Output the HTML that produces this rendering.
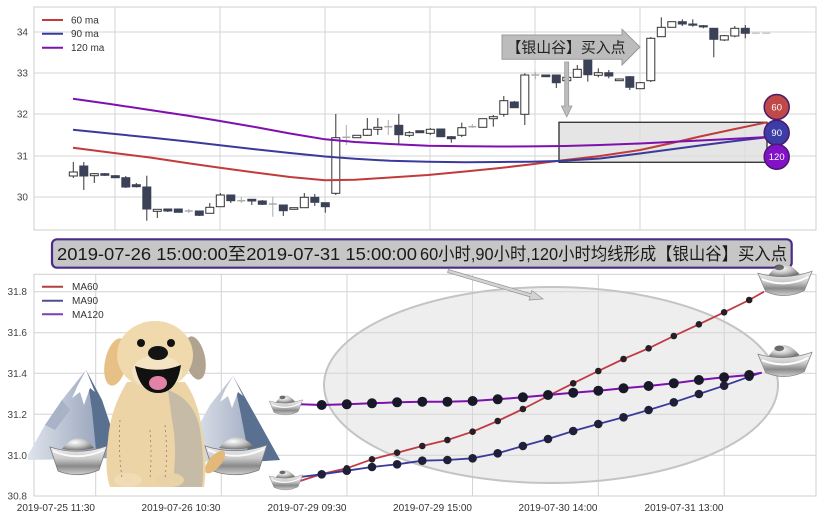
<!DOCTYPE html>
<html><head><meta charset="utf-8"><style>
html,body{margin:0;padding:0;background:#fff;}
svg{display:block;}
text{font-family:"Liberation Sans","Noto Sans CJK SC",sans-serif;}
</style></head><body>
<svg width="822" height="520" viewBox="0 0 822 520" xmlns="http://www.w3.org/2000/svg">
<defs>
<linearGradient id="silv" x1="0" y1="0" x2="0" y2="1"><stop offset="0" stop-color="#f4f4f4"/><stop offset="0.45" stop-color="#c8c8c8"/><stop offset="0.7" stop-color="#8a8a8a"/><stop offset="1" stop-color="#d0d0d0"/></linearGradient>
<radialGradient id="dome" cx="0.4" cy="0.35" r="0.7"><stop offset="0" stop-color="#ffffff"/><stop offset="0.5" stop-color="#c4c4c4"/><stop offset="1" stop-color="#6a6a6a"/></radialGradient>
<linearGradient id="mtL" x1="0" y1="0" x2="1" y2="0"><stop offset="0" stop-color="#dfe4ec"/><stop offset="1" stop-color="#8795b0"/></linearGradient>
<symbol id="ing" viewBox="0 0 60 42">
<path d="M2,16 Q30,24 58,14 L50,34 Q30,44 10,35 Z" fill="url(#silv)" stroke="#888" stroke-width="0.8"/>
<path d="M13,18 Q28,-4 45,17 Q30,22 13,18 Z" fill="url(#dome)"/>
<ellipse cx="24" cy="10" rx="5" ry="3" fill="#333" opacity="0.7"/>
<path d="M6,22 Q30,32 54,20" stroke="#fff" stroke-width="2" fill="none"/>
</symbol>
</defs>

<!-- ========== TOP CHART ========== -->
<rect x="34" y="7" width="782" height="223" fill="#fff" stroke="#cfcfcf" stroke-width="1"/>
<g stroke="#d4d4d4" stroke-width="1">
<line x1="34" y1="32" x2="816" y2="32"/><line x1="34" y1="73" x2="816" y2="73"/>
<line x1="34" y1="114" x2="816" y2="114"/><line x1="34" y1="156" x2="816" y2="156"/>
<line x1="34" y1="197" x2="816" y2="197"/>
<line x1="115" y1="7" x2="115" y2="230"/><line x1="220" y1="7" x2="220" y2="230"/>
<line x1="325" y1="7" x2="325" y2="230"/><line x1="430" y1="7" x2="430" y2="230"/>
<line x1="535" y1="7" x2="535" y2="230"/><line x1="640" y1="7" x2="640" y2="230"/>
<line x1="745" y1="7" x2="745" y2="230"/>
</g>
<g font-size="10" fill="#444" text-anchor="end">
<text x="28" y="35.5">34</text><text x="28" y="76.5">33</text><text x="28" y="117.5">32</text>
<text x="28" y="159.5">31</text><text x="28" y="200.5">30</text>
</g>

<!-- gray box -->
<rect x="559" y="122.3" width="208" height="40" fill="#dcdcdc" fill-opacity="0.75" stroke="#3a3a3a" stroke-width="1.4"/>

<!-- candles -->
<g stroke="#333" stroke-width="1">
<line x1="73.3" y1="162" x2="73.3" y2="178"/><line x1="83.8" y1="162" x2="83.8" y2="190"/>
<line x1="94.3" y1="173" x2="94.3" y2="183"/><line x1="104.8" y1="173" x2="104.8" y2="176"/>
<line x1="115.3" y1="175" x2="115.3" y2="178"/><line x1="125.8" y1="176" x2="125.8" y2="188"/>
<line x1="136.3" y1="183" x2="136.3" y2="187.5"/><line x1="146.8" y1="175.7" x2="146.8" y2="220.7"/>
<line x1="157.3" y1="209" x2="157.3" y2="218"/><line x1="167.8" y1="208.5" x2="167.8" y2="212"/>
<line x1="199.3" y1="211" x2="199.3" y2="216"/><line x1="209.8" y1="203" x2="209.8" y2="213.5"/>
<line x1="220.3" y1="193" x2="220.3" y2="207"/><line x1="230.8" y1="195" x2="230.8" y2="203"/>
<line x1="251.8" y1="199" x2="251.8" y2="205"/><line x1="262.3" y1="200" x2="262.3" y2="205"/>
<line x1="283.3" y1="205" x2="283.3" y2="216"/><line x1="304.3" y1="193" x2="304.3" y2="208"/>
<line x1="314.8" y1="194" x2="314.8" y2="206"/><line x1="325.3" y1="202.5" x2="325.3" y2="212.7"/>
<line x1="335.8" y1="114" x2="335.8" y2="195"/>
<line x1="367.3" y1="118" x2="367.3" y2="136"/><line x1="377.8" y1="118" x2="377.8" y2="135"/>
<line x1="398.8" y1="114" x2="398.8" y2="145"/><line x1="409.3" y1="131" x2="409.3" y2="137"/>
<line x1="430.3" y1="128" x2="430.3" y2="135"/><line x1="440.8" y1="128.5" x2="440.8" y2="137"/>
<line x1="451.3" y1="136" x2="451.3" y2="142.7"/><line x1="461.8" y1="122.7" x2="461.8" y2="137"/>
<line x1="493.3" y1="115" x2="493.3" y2="126.7"/><line x1="503.8" y1="96" x2="503.8" y2="116.7"/>
<line x1="514.3" y1="101" x2="514.3" y2="108"/><line x1="524.8" y1="73.3" x2="524.8" y2="125"/>
<line x1="556.3" y1="75" x2="556.3" y2="88"/><line x1="566.8" y1="76" x2="566.8" y2="82"/>
<line x1="577.3" y1="65" x2="577.3" y2="78"/><line x1="587.8" y1="59" x2="587.8" y2="81.7"/>
<line x1="598.3" y1="68.3" x2="598.3" y2="77.3"/><line x1="608.8" y1="70" x2="608.8" y2="78.3"/>
<line x1="629.8" y1="76" x2="629.8" y2="90"/><line x1="640.3" y1="82" x2="640.3" y2="89"/>
<line x1="650.8" y1="37" x2="650.8" y2="82"/><line x1="661.3" y1="17.3" x2="661.3" y2="37"/>
<line x1="682.3" y1="19.3" x2="682.3" y2="26"/><line x1="692.8" y1="19.3" x2="692.8" y2="26.7"/>
<line x1="703.3" y1="25" x2="703.3" y2="28.3"/><line x1="713.8" y1="28" x2="713.8" y2="57.3"/>
<line x1="724.3" y1="35" x2="724.3" y2="41"/><line x1="734.8" y1="26" x2="734.8" y2="37.3"/>
<line x1="745.3" y1="25" x2="745.3" y2="38.3"/>
</g>
<g stroke="#aaa" stroke-width="1">
<line x1="188.8" y1="209" x2="188.8" y2="213"/><line x1="241.3" y1="197" x2="241.3" y2="203"/>
<line x1="272.8" y1="196.7" x2="272.8" y2="216.7"/><line x1="346.3" y1="125" x2="346.3" y2="145"/>
<line x1="388.3" y1="120" x2="388.3" y2="135"/><line x1="472.3" y1="124" x2="472.3" y2="128"/>
<line x1="535.3" y1="71.7" x2="535.3" y2="79.3"/>
</g>
<g stroke="#aaa" stroke-width="1.5">
<line x1="184.8" y1="211" x2="192.8" y2="211"/><line x1="237.3" y1="200.7" x2="245.3" y2="200.7"/>
<line x1="268.8" y1="204" x2="276.8" y2="204"/><line x1="342.3" y1="137.3" x2="350.3" y2="137.3"/>
<line x1="384.3" y1="126.7" x2="392.3" y2="126.7"/><line x1="468.3" y1="126.7" x2="476.3" y2="126.7"/>
<line x1="531.3" y1="75" x2="539.3" y2="75"/>
<line x1="751.8" y1="33.3" x2="759.8" y2="33.3" stroke="#ccc"/><line x1="762.3" y1="33.3" x2="770.3" y2="33.3" stroke="#ccc"/>
</g>
<!-- hollow bodies -->
<g fill="#fff" stroke="#333" stroke-width="1">
<rect x="69.3" y="172" width="8" height="4"/><rect x="90.3" y="173.7" width="8" height="2"/>
<rect x="153.3" y="209.3" width="8" height="2"/><rect x="205.8" y="207.3" width="8" height="6"/>
<rect x="216.3" y="195" width="8" height="11.7"/><rect x="289.8" y="207.7" width="8" height="1.6"/>
<rect x="300.3" y="197.3" width="8" height="10.4"/><rect x="331.8" y="137.7" width="8" height="55.6"/>
<rect x="352.8" y="135.3" width="8" height="2.4"/><rect x="363.3" y="129.3" width="8" height="6"/>
<rect x="373.8" y="127.3" width="8" height="2"/><rect x="405.3" y="132.7" width="8" height="2.6"/>
<rect x="426.3" y="129.3" width="8" height="4"/><rect x="457.8" y="127.7" width="8" height="7.6"/>
<rect x="478.8" y="118.7" width="8" height="8.6"/><rect x="489.3" y="116.7" width="8" height="2"/>
<rect x="499.8" y="100.7" width="8" height="13.6"/><rect x="520.8" y="75" width="8" height="39.3"/>
<rect x="562.8" y="77.3" width="8" height="3.4"/><rect x="573.3" y="69.3" width="8" height="8"/>
<rect x="594.3" y="72.7" width="8" height="2.6"/><rect x="615.3" y="79" width="8" height="1.7"/>
<rect x="636.3" y="82.7" width="8" height="6"/><rect x="646.8" y="38.3" width="8" height="42.4"/>
<rect x="657.3" y="27.3" width="8" height="9.4"/><rect x="667.8" y="21.7" width="8" height="5.6"/>
<rect x="720.3" y="35.7" width="8" height="4.3"/><rect x="730.8" y="28.3" width="8" height="7.7"/>
</g>
<!-- filled bodies -->
<g fill="#3b4157" stroke="#3b4157" stroke-width="1">
<rect x="79.8" y="166" width="8" height="10"/><rect x="100.8" y="173.7" width="8" height="1.6"/>
<rect x="111.3" y="175.7" width="8" height="2"/><rect x="121.8" y="177.7" width="8" height="9.3"/>
<rect x="132.3" y="184.7" width="8" height="2"/><rect x="142.8" y="187" width="8" height="22"/>
<rect x="163.8" y="209" width="8" height="2"/><rect x="174.3" y="209" width="8" height="3.3"/>
<rect x="195.3" y="211" width="8" height="4.3"/><rect x="226.8" y="195" width="8" height="5.7"/>
<rect x="247.8" y="199.3" width="8" height="1.7"/><rect x="258.3" y="201" width="8" height="3.3"/>
<rect x="279.3" y="205" width="8" height="5.7"/><rect x="310.8" y="197.3" width="8" height="5"/>
<rect x="321.3" y="202.7" width="8" height="4"/><rect x="394.8" y="125.3" width="8" height="9.4"/>
<rect x="415.8" y="130.7" width="8" height="2"/><rect x="436.8" y="129" width="8" height="7.7"/>
<rect x="447.3" y="136.7" width="8" height="2"/><rect x="510.3" y="102" width="8" height="5.7"/>
<rect x="541.8" y="75" width="8" height="1.7"/><rect x="552.3" y="75" width="8" height="7.7"/>
<rect x="583.8" y="59.3" width="8" height="15.4"/><rect x="604.8" y="72.7" width="8" height="3.3"/>
<rect x="625.8" y="76.7" width="8" height="10.6"/><rect x="678.3" y="21.7" width="8" height="2.3"/>
<rect x="688.8" y="24" width="8" height="1.2"/><rect x="699.3" y="25.7" width="8" height="1.2"/>
<rect x="709.8" y="28.3" width="8" height="11"/><rect x="741.3" y="28.3" width="8" height="5"/>
</g>

<!-- MA lines top -->
<g fill="none" stroke-width="2" stroke-linejoin="round">
<polyline stroke="#c23b3b" points="73,147.7 110,152.5 150,157.5 190,163.5 220,167.7 255,172.5 290,177 325,180.3 355,179.8 390,177.5 428,175 465,171.5 500,168 530,164.5 559,160.7 600,156 640,150 670,143.5 700,136.5 735,129 767,122.3"/>
<polyline stroke="#3a3a9c" points="73,129.7 110,133.5 150,137.5 190,141.8 220,145.3 255,149.3 290,153 325,156.5 355,158.8 390,160.8 428,161.7 465,162.2 500,162 530,161.7 559,161 600,158.5 640,153.5 670,149.5 700,145.5 735,141 767,137.3"/>
<polyline stroke="#7e10ae" points="73,98.7 110,104 150,110 190,116 220,121 255,127 290,133.5 325,139.3 355,142 390,144 428,145.7 465,146.2 500,146.5 530,146.4 565,146 600,145 640,143.5 670,142 700,140.5 735,138.8 767,137"/>
</g>

<!-- circles -->
<g stroke="#4a1a6a" stroke-width="1.5">
<circle cx="776.7" cy="107" r="12.5" fill="#c04848"/>
<circle cx="776.7" cy="132.7" r="12.5" fill="#3d3da8"/>
<circle cx="776.7" cy="156.7" r="12.5" fill="#8212c8"/>
</g>
<g font-size="9.5" fill="#fff" text-anchor="middle">
<text x="776.7" y="110.5">60</text><text x="776.7" y="136.2">90</text><text x="776.7" y="160.2">120</text>
</g>

<!-- right arrow with label -->
<polygon points="502,35 622,35 622,29.3 640,47 622,65 622,59.3 502,59.3" fill="#bcbcbc" stroke="#9a9a9a" stroke-width="1"/>
<text x="506.5" y="52.5" font-size="15" fill="#222" textLength="119" lengthAdjust="spacingAndGlyphs">【银山谷】买入点</text>
<!-- down arrow -->
<polygon points="564.7,62 568.7,62 568.7,106 572,106 566.7,117 561.4,106 564.7,106" fill="#bcbcbc" stroke="#9a9a9a" stroke-width="0.8"/>

<!-- top legend -->
<g stroke-width="2">
<line x1="42" y1="20" x2="63" y2="20" stroke="#c23b3b"/>
<line x1="42" y1="33.7" x2="63" y2="33.7" stroke="#3a3a9c"/>
<line x1="42" y1="47.7" x2="63" y2="47.7" stroke="#7e10ae"/>
</g>
<g font-size="10" fill="#333">
<text x="71" y="23.5">60 ma</text><text x="71" y="37.2">90 ma</text><text x="71" y="51.2">120 ma</text>
</g>

<!-- ========== BANNER ========== -->
<rect x="52" y="239.3" width="739.7" height="28.4" rx="5" fill="#c6c6c6" stroke="#4b2a8a" stroke-width="2.2"/>
<text x="57" y="260" font-size="17.5" fill="#1a1a1a" textLength="360" lengthAdjust="spacingAndGlyphs">2019-07-26 15:00:00至2019-07-31 15:00:00</text>
<text x="420" y="260" font-size="17.5" fill="#1a1a1a" textLength="367" lengthAdjust="spacingAndGlyphs">60小时,90小时,120小时均线形成【银山谷】买入点</text>

<!-- ========== BOTTOM CHART ========== -->
<rect x="34" y="274.3" width="782" height="221.7" fill="#fff" stroke="#cfcfcf" stroke-width="1"/>
<g stroke="#d4d4d4" stroke-width="1">
<line x1="34" y1="291.7" x2="816" y2="291.7"/><line x1="34" y1="332.7" x2="816" y2="332.7"/>
<line x1="34" y1="373.3" x2="816" y2="373.3"/><line x1="34" y1="414.3" x2="816" y2="414.3"/>
<line x1="34" y1="455.3" x2="816" y2="455.3"/>
<line x1="95.7" y1="274.3" x2="95.7" y2="496"/><line x1="221.3" y1="274.3" x2="221.3" y2="496"/>
<line x1="347" y1="274.3" x2="347" y2="496"/><line x1="472.5" y1="274.3" x2="472.5" y2="496"/>
<line x1="598.3" y1="274.3" x2="598.3" y2="496"/><line x1="724.2" y1="274.3" x2="724.2" y2="496"/>
</g>
<g font-size="10" fill="#444" text-anchor="end">
<text x="27" y="295.2">31.8</text><text x="27" y="336.2">31.6</text><text x="27" y="376.8">31.4</text>
<text x="27" y="417.8">31.2</text><text x="27" y="458.8">31.0</text><text x="27" y="499.5">30.8</text>
</g>
<g font-size="10" fill="#333" text-anchor="end">
<text x="95" y="511">2019-07-25 11:30</text><text x="220.5" y="511">2019-07-26 10:30</text>
<text x="346.5" y="511">2019-07-29 09:30</text><text x="472" y="511">2019-07-29 15:00</text>
<text x="597.5" y="511">2019-07-30 14:00</text><text x="723.5" y="511">2019-07-31 13:00</text>
</g>

<!-- ellipse -->
<ellipse cx="551" cy="385" rx="227" ry="98" fill="#d6d6d6" fill-opacity="0.42" stroke="#c4c4c4" stroke-width="2"/>

<!-- bottom arrow -->
<g transform="translate(448,271) rotate(16.4)">
<polygon points="0,-1.6 86,-1.6 86,-5 99,0 86,5 86,1.6 0,1.6" fill="#d4d4d4" stroke="#9a9a9a" stroke-width="0.8"/>
</g>

<!-- bottom lines -->
<g fill="none" stroke-width="1.8" stroke-linejoin="round">
<polyline stroke="#c03a44" points="300,481 321.7,474 346.8,468.3 372,459.3 397.1,452.7 422.3,446 447.4,440 472.6,431.7 497.7,421 522.9,409 548,396 573.2,383.3 598.3,371 623.5,359 648.6,348.3 673.8,336 698.9,324.3 724.1,312.3 749.2,300 764,291.7"/>
<polyline stroke="#3a3a9c" points="300,477 321.7,474.3 346.8,470.7 372,467 397.1,464.3 422.3,460.7 447.4,460 472.6,458.3 497.7,453.3 522.9,446 548,439 573.2,431 598.3,424 623.5,417.3 648.6,410 673.8,402.3 698.9,394 724.1,385.7 749.2,376.7 761.7,372.7"/>
<polyline stroke="#7e10ae" stroke-width="2" points="300,404.3 321.7,405 346.8,404.3 372,403.3 397.1,402.3 422.3,401.7 447.4,401.7 472.6,401 497.7,399.3 522.9,397.3 548,395 573.2,392.7 598.3,390.7 623.5,388.3 648.6,386 673.8,383.3 698.9,380 724.1,377.3 749.2,375 761.7,372.7"/>
</g>
<!-- markers -->
<g fill="#2a1e26">
<circle cx="321.7" cy="474" r="3.3"/><circle cx="346.8" cy="468.3" r="3.3"/><circle cx="372" cy="459.3" r="3.3"/>
<circle cx="397.1" cy="452.7" r="3.3"/><circle cx="422.3" cy="446" r="3.3"/><circle cx="447.4" cy="440" r="3.3"/>
<circle cx="472.6" cy="431.7" r="3.3"/><circle cx="497.7" cy="421" r="3.3"/><circle cx="522.9" cy="409" r="3.3"/>
<circle cx="548" cy="396" r="3.3"/><circle cx="573.2" cy="383.3" r="3.3"/><circle cx="598.3" cy="371" r="3.3"/>
<circle cx="623.5" cy="359" r="3.3"/><circle cx="648.6" cy="348.3" r="3.3"/><circle cx="673.8" cy="336" r="3.3"/>
<circle cx="698.9" cy="324.3" r="3.3"/><circle cx="724.1" cy="312.3" r="3.3"/><circle cx="749.2" cy="300" r="3.3"/>
</g>
<g fill="#1f1f3a">
<circle cx="321.7" cy="474.3" r="4.3"/><circle cx="346.8" cy="470.7" r="4.3"/><circle cx="372" cy="467" r="4.3"/>
<circle cx="397.1" cy="464.3" r="4.3"/><circle cx="422.3" cy="460.7" r="4.3"/><circle cx="447.4" cy="460" r="4.3"/>
<circle cx="472.6" cy="458.3" r="4.3"/><circle cx="497.7" cy="453.3" r="4.3"/><circle cx="522.9" cy="446" r="4.3"/>
<circle cx="548" cy="439" r="4.3"/><circle cx="573.2" cy="431" r="4.3"/><circle cx="598.3" cy="424" r="4.3"/>
<circle cx="623.5" cy="417.3" r="4.3"/><circle cx="648.6" cy="410" r="4.3"/><circle cx="673.8" cy="402.3" r="4.3"/>
<circle cx="698.9" cy="394" r="4.3"/><circle cx="724.1" cy="385.7" r="4.3"/><circle cx="749.2" cy="376.7" r="4.3"/>
</g>
<g fill="#181828">
<circle cx="321.7" cy="405" r="5"/><circle cx="346.8" cy="404.3" r="5"/><circle cx="372" cy="403.3" r="5"/>
<circle cx="397.1" cy="402.3" r="5"/><circle cx="422.3" cy="401.7" r="5"/><circle cx="447.4" cy="401.7" r="5"/>
<circle cx="472.6" cy="401" r="5"/><circle cx="497.7" cy="399.3" r="5"/><circle cx="522.9" cy="397.3" r="5"/>
<circle cx="548" cy="395" r="5"/><circle cx="573.2" cy="392.7" r="5"/><circle cx="598.3" cy="390.7" r="5"/>
<circle cx="623.5" cy="388.3" r="5"/><circle cx="648.6" cy="386" r="5"/><circle cx="673.8" cy="383.3" r="5"/>
<circle cx="698.9" cy="380" r="5"/><circle cx="724.1" cy="377.3" r="5"/><circle cx="749.2" cy="375" r="5"/>
</g>

<!-- bottom legend -->
<g stroke-width="2">
<line x1="42" y1="286.7" x2="63" y2="286.7" stroke="#b04040"/>
<line x1="42" y1="300.7" x2="63" y2="300.7" stroke="#505090"/>
<line x1="42" y1="314.3" x2="63" y2="314.3" stroke="#7b3fb0"/>
</g>
<g font-size="10" fill="#333">
<text x="72" y="290.2">MA60</text><text x="72" y="304.2">MA90</text><text x="72" y="317.8">MA120</text>
</g>

<!-- small ingots -->
<use href="#ing" x="268" y="389" width="36" height="30"/>
<use href="#ing" x="268" y="463" width="36" height="32"/>
<use href="#ing" x="756" y="256" width="58" height="44"/>
<use href="#ing" x="756" y="337" width="58" height="44"/>

<!-- ========== DOG ILLUSTRATION ========== -->
<!-- left mountain -->
<polygon points="28,455 45,425 62,400 86,370 102,400 117,445 117,458 28,460" fill="url(#mtL)"/>
<polygon points="86,370 102,400 117,445 96,450 92,410" fill="#5a7090"/>
<polygon points="86,370 78,385 72,398 80,392 84,405 90,388 95,392" fill="#fff"/>
<polygon points="45,425 62,400 70,410 55,430" fill="#a8b3c8"/>
<!-- right mountain -->
<polygon points="191,440 210,405 233,376 255,415 280,460 191,462" fill="url(#mtL)"/>
<polygon points="233,376 255,415 280,460 250,462 240,410" fill="#5a7090"/>
<polygon points="233,376 225,390 220,402 228,396 232,408 238,392 243,396" fill="#fff"/>
<!-- big ingots -->
<path d="M50,447 Q78,456 107,446 L99,470 Q78,479 58,471 Z" fill="url(#silv)" stroke="#7a7a7a" stroke-width="0.8"/>
<path d="M62,449 Q78,428 94,448 Q78,452 62,449 Z" fill="url(#dome)"/>
<path d="M53,451 Q78,462 104,450" stroke="#fafafa" stroke-width="2" fill="none"/>
<path d="M205,446 Q236,456 267,445 L259,470 Q236,479 213,471 Z" fill="url(#silv)" stroke="#7a7a7a" stroke-width="0.8"/>
<path d="M219,448 Q236,427 254,447 Q236,451 219,448 Z" fill="url(#dome)"/>
<path d="M208,450 Q236,462 264,449" stroke="#fafafa" stroke-width="2" fill="none"/>
<!-- dog tail -->
<ellipse cx="215" cy="462" rx="6" ry="14" transform="rotate(40 215 462)" fill="#e3b979"/>
<!-- dog body -->
<path d="M127,382 Q110,410 108,440 Q104,470 110,487 L204,487 Q208,460 202,430 Q198,400 185,382 Z" fill="#ecd4a6"/>
<path d="M168,390 Q195,400 200,430 Q205,462 202,487 L172,487 Q178,450 172,420 Z" fill="#c6bba6"/>
<ellipse cx="128" cy="480" rx="14" ry="7" fill="#f0dcb4"/>
<ellipse cx="170" cy="480" rx="14" ry="7" fill="#e8d2a6"/>
<g stroke="#8a7656" stroke-width="0.7" stroke-dasharray="2,3" fill="none">
<path d="M120,420 Q118,450 122,478"/><path d="M150,430 Q152,455 150,478"/><path d="M165,425 Q168,455 165,478"/>
</g>
<!-- ears -->
<ellipse cx="116" cy="362" rx="11" ry="24" transform="rotate(12 116 362)" fill="#e6c084"/>
<ellipse cx="195" cy="358" rx="10" ry="22" transform="rotate(-12 195 358)" fill="#b0a390"/>
<!-- head -->
<ellipse cx="155" cy="355" rx="38" ry="34" fill="#efd9ad"/>
<ellipse cx="157" cy="372" rx="25" ry="17" fill="#f4e4c4"/>
<circle cx="141" cy="343" r="4" fill="#111"/>
<circle cx="171" cy="343" r="4" fill="#111"/>
<path d="M135,366 Q140,393 158,393 Q177,393 181,365 Q158,374 135,366 Z" fill="#111"/>
<ellipse cx="158" cy="383" rx="9" ry="7" fill="#e283a5"/>
<ellipse cx="158" cy="353" rx="10" ry="7" fill="#141414"/>
</svg>
</body></html>
